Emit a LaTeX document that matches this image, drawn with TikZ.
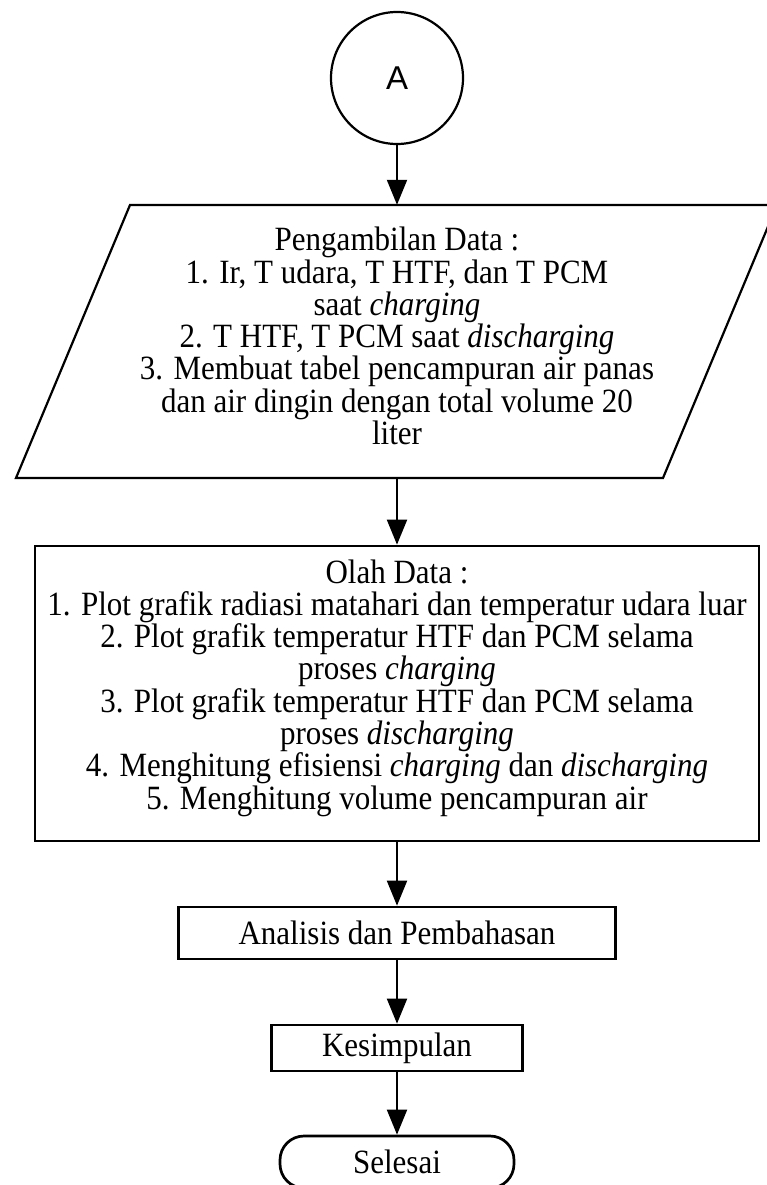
\documentclass[tikz,border=0pt]{standalone}
\usepackage{fontspec}
\setmainfont{Liberation Serif}[FakeStretch=0.912]
\newfontfamily\arialfont{Liberation Sans}
\usetikzlibrary{arrows.meta}
\begin{document}
\begin{tikzpicture}[x=1pt,y=-1pt,
  txt/.style={font=\fontsize{34}{32.3}\selectfont, align=center, inner sep=0pt},
  box/.style={txt, draw, line width=2.7pt},
  arr/.style={line width=2pt, -{Triangle[width=20pt,length=25pt]}},
]
\clip (0,0) rectangle (767,1185);
\node[circle, draw, line width=2.2pt, minimum size=132pt, inner sep=0pt,
      font=\arialfont\fontsize{33}{33}\selectfont] (a) at (397,78) {A};
\node[minimum height=273pt, inner sep=0pt] (data) at (397,341.5) {};
\node[txt] (datatxt) at (397,336) {Pengambilan Data :\\
1. Ir, T udara, T HTF, dan T PCM\\
saat \textit{charging}\\
2. T HTF, T PCM saat \textit{discharging}\\
3. Membuat tabel pencampuran air panas\\
dan air dingin dengan total volume 20\\
liter};
\draw[line width=2.2pt] (16,478) -- (663,478) -- (777,205) -- (130,205) -- cycle;
\node[box, minimum width=724pt, minimum height=295pt] (olah) at (397,693.5) {};
\node[txt] (olahtxt) at (397,688) {Olah Data :\\
1. Plot grafik radiasi matahari dan temperatur udara luar\\
2. Plot grafik temperatur HTF dan PCM selama\\
proses \textit{charging}\\
3. Plot grafik temperatur HTF dan PCM selama\\
proses \textit{discharging}\\
4. Menghitung efisiensi \textit{charging} dan \textit{discharging}\\
5. Menghitung volume pencampuran air};
\node[box, minimum width=437pt, minimum height=52pt] (anal) at (397,933) {Analisis dan Pembahasan};
\node[box, minimum width=251pt, minimum height=46pt] (kes) at (397,1048) {Kesimpulan};
\node[box, rounded corners=24pt, minimum width=234pt, minimum height=52pt] (sel) at (397,1162) {Selesai};
\draw[arr] (a.south) -- (data.north);
\draw[arr] (data.south) -- (olah.north);
\draw[arr] (olah.south) -- (anal.north);
\draw[arr] (anal.south) -- (kes.north);
\draw[arr] (kes.south) -- (sel.north);
\end{tikzpicture}
\end{document}
